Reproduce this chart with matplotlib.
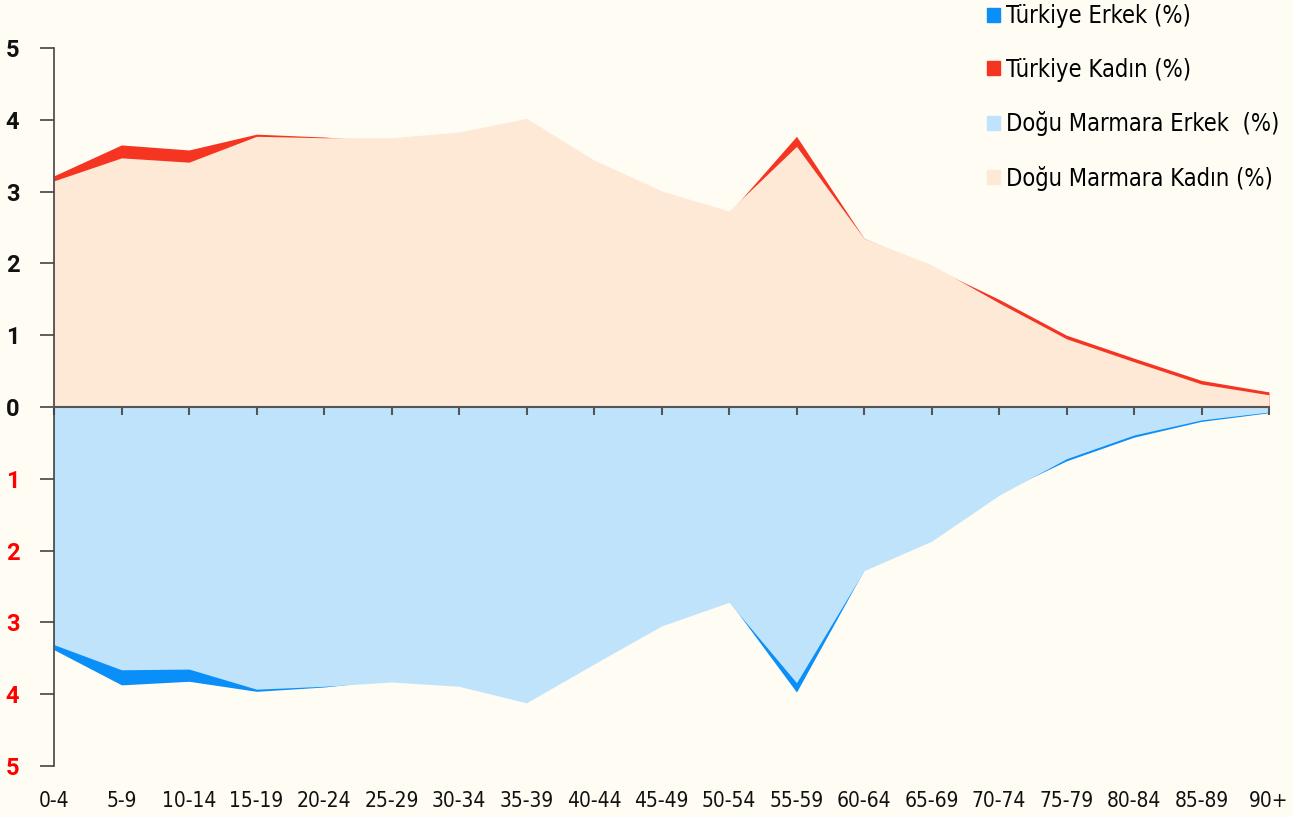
import matplotlib
matplotlib.use("Agg")
import matplotlib.pyplot as plt
from matplotlib.patches import Patch
from matplotlib.font_manager import FontProperties
from matplotlib.ticker import FixedLocator, FuncFormatter
import numpy as np

categories = ["0-4", "5-9", "10-14", "15-19", "20-24", "25-29", "30-34", "35-39",
              "40-44", "45-49", "50-54", "55-59", "60-64", "65-69", "70-74",
              "75-79", "80-84", "85-89", "90+"]

turkiye_kadin = [3.22, 3.65, 3.58, 3.80, 3.76, 3.70, 3.72, 3.85, 3.40, 2.95, 2.70,
                 3.77, 2.35, 1.95, 1.50, 1.00, 0.68, 0.37, 0.21]
dm_kadin = [3.15, 3.47, 3.41, 3.77, 3.75, 3.75, 3.83, 4.02, 3.44, 3.01, 2.73,
            3.63, 2.35, 1.98, 1.45, 0.95, 0.63, 0.32, 0.17]
turkiye_erkek = [3.38, 3.87, 3.82, 3.96, 3.90, 3.80, 3.85, 4.05, 3.55, 3.00, 2.70,
                 3.97, 2.27, 1.85, 1.20, 0.75, 0.42, 0.20, 0.08]
dm_erkek = [3.31, 3.66, 3.65, 3.93, 3.89, 3.83, 3.89, 4.12, 3.58, 3.05, 2.72,
            3.84, 2.28, 1.87, 1.23, 0.72, 0.39, 0.18, 0.07]

legend_labels = ["Türkiye Erkek (%)", "Türkiye Kadın (%)",
                 "Doğu Marmara Erkek  (%)", "Doğu Marmara Kadın (%)"]

BG = "#FFFCF4"
RED = "#F53422"
BLUE = "#0A8EF7"
PEACH = "#FDE9D6"
LIGHTBLUE = "#C0E3FC"

fig = plt.figure(figsize=(12.93, 8.17), dpi=100, facecolor=BG)
ax = fig.add_axes([54/1293, (817-766)/817, (1269-54)/1293, (766-48)/817])
ax.set_facecolor(BG)

x = np.arange(len(categories))
ax.fill_between(x, 0, turkiye_kadin, color=RED, lw=0)
ax.fill_between(x, 0, dm_kadin, color=PEACH, lw=0)
ax.fill_between(x, 0, -np.array(turkiye_erkek), color=BLUE, lw=0)
ax.fill_between(x, 0, -np.array(dm_erkek), color=LIGHTBLUE, lw=0)

ax.set_xlim(0, len(categories) - 1)
ax.set_ylim(-5, 5)

for s in ["top", "right"]:
    ax.spines[s].set_visible(False)
ax.spines["left"].set_color("#444444")
ax.spines["left"].set_linewidth(1.2)
ax.spines["bottom"].set_position(("data", 0))
ax.spines["bottom"].set_color("#555555")
ax.spines["bottom"].set_linewidth(1.5)

ax.set_xticks(x)
ax.tick_params(axis="x", direction="out", length=6, width=1.5, color="#555555",
               labelbottom=False)

yt = np.arange(-5, 6)
ax.yaxis.set_major_locator(FixedLocator(yt))
ax.yaxis.set_major_formatter(FuncFormatter(lambda v, p: f"{abs(int(round(v)))}"))
ax.tick_params(axis="y", direction="out", length=10, width=1.2, color="#444444",
               pad=15, labelsize=17)
for lbl, v in zip(ax.get_yticklabels(), yt):
    lbl.set_fontfamily(["Roboto", "DejaVu Sans"])
    lbl.set_fontweight("bold")
    lbl.set_color("#FF0000" if v < 0 else "#111111")

xfont = FontProperties(family="DejaVu Sans", stretch="condensed", size=15)
sec = ax.secondary_xaxis("bottom")
sec.set_xticks(x)
sec.set_xticklabels(categories, fontproperties=xfont, color="#111111")
sec.tick_params(length=0, pad=18)
sec.spines["bottom"].set_visible(False)

legfont = FontProperties(family="DejaVu Sans", stretch="condensed", size=17)
handles = [Patch(color=BLUE), Patch(color=RED), Patch(color=LIGHTBLUE), Patch(color=PEACH)]
leg = fig.legend(handles, legend_labels, loc="upper left",
                 bbox_to_anchor=(966/1293, 1.021), frameon=False,
                 prop=legfont, handlelength=0.55,
                 handleheight=0.55, handletextpad=0.25, labelspacing=1.25)

fig.savefig("out.png", dpi=100, facecolor=BG)
